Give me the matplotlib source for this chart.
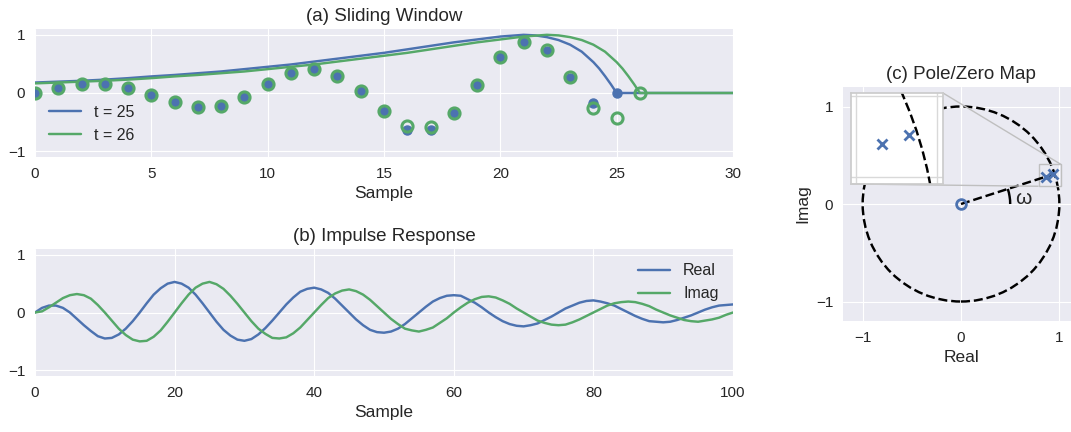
import numpy as np
import matplotlib
matplotlib.use('Agg')
import matplotlib.pyplot as plt
from matplotlib.patches import Arc, Circle
from mpl_toolkits.axes_grid1.inset_locator import mark_inset

plt.style.use('seaborn-v0_8-darkgrid')
plt.rcParams['font.family'] = ['Liberation Sans', 'DejaVu Sans']
plt.rcParams.update({'xtick.labelsize': 11, 'ytick.labelsize': 11,
                     'axes.labelsize': 12.5, 'axes.titlesize': 13.5,
                     'legend.fontsize': 11.5, 'lines.linewidth': 1.75,
                     'xtick.major.pad': 7, 'ytick.major.pad': 7})

blue = '#4C72B0'
green = '#55A868'

# (a) samples under the window ending at t = 25 and t = 26
n_25 = np.arange(26)
x_25 = [0.00, 0.09, 0.16, 0.16, 0.09, -0.03, -0.16, -0.24, -0.22, -0.07,
        0.15, 0.34, 0.41, 0.30, 0.04, -0.31, -0.63, -0.64, -0.34, 0.14,
        0.62, 0.87, 0.72, 0.25, -0.18, 0.00]
n_26 = np.arange(27)
x_26 = [0.00, 0.09, 0.16, 0.16, 0.09, -0.03, -0.16, -0.24, -0.22, -0.07,
        0.15, 0.34, 0.41, 0.30, 0.04, -0.31, -0.57, -0.59, -0.34, 0.14,
        0.62, 0.87, 0.74, 0.27, -0.25, -0.43, 0.00]

# window shapes
win_n_25 = [0, 1, 2, 3, 4, 5, 6, 7, 8, 9, 10, 11, 12, 13, 14, 15, 16, 17, 18,
            19, 20, 21, 21.5, 22, 22.5, 23, 23.5, 24, 24.25, 24.5, 24.75, 25, 30]
win_25 = [0.18, 0.195, 0.21, 0.23, 0.255, 0.285, 0.31, 0.34, 0.37, 0.41,
          0.45, 0.49, 0.54, 0.59, 0.64, 0.69, 0.75, 0.81, 0.87, 0.92, 0.97,
          1.0, 0.99, 0.96, 0.91, 0.83, 0.71, 0.53, 0.42, 0.29, 0.15, 0.0, 0.0]
win_n_26 = [0, 1, 2, 3, 4, 5, 6, 7, 8, 9, 10, 11, 12, 13, 14, 15, 16, 17, 18,
            19, 20, 21, 22, 22.5, 23, 23.5, 24, 24.5, 25, 25.25, 25.5, 25.75,
            26, 30]
win_26 = [0.165, 0.18, 0.195, 0.21, 0.23, 0.255, 0.285, 0.31, 0.34, 0.37,
          0.41, 0.45, 0.49, 0.54, 0.59, 0.64, 0.69, 0.75, 0.81, 0.87, 0.92,
          0.97, 1.0, 0.99, 0.96, 0.91, 0.83, 0.71, 0.53, 0.42, 0.29, 0.15,
          0.0, 0.0]

# (b) impulse response, samples 0..100
h_n = np.arange(101)
h_real = [0.00, 0.08, 0.12, 0.12, 0.08, 0.00, -0.11, -0.22, -0.32, -0.41,
          -0.45, -0.44, -0.38, -0.28, -0.15, 0.00, 0.16, 0.31, 0.42, 0.50,
          0.53, 0.50, 0.43, 0.31, 0.16, 0.00, -0.16, -0.30, -0.40, -0.47,
          -0.49, -0.46, -0.38, -0.27, -0.14, 0.00, 0.14, 0.26, 0.36, 0.41,
          0.43, 0.40, 0.34, 0.24, 0.12, 0.00, -0.12, -0.22, -0.30, -0.34,
          -0.35, -0.33, -0.28, -0.20, -0.10, 0.00, 0.10, 0.19, 0.25, 0.29,
          0.30, 0.29, 0.23, 0.17, 0.09, 0.00, -0.08, -0.15, -0.20, -0.23,
          -0.24, -0.22, -0.19, -0.13, -0.07, 0.00, 0.07, 0.12, 0.17, 0.20,
          0.21, 0.19, 0.16, 0.12, 0.06, 0.00, -0.06, -0.11, -0.15, -0.16,
          -0.17, -0.16, -0.13, -0.09, -0.05, 0.00, 0.05, 0.09, 0.12, 0.13,
          0.14]
h_imag = [0.00, 0.02, 0.09, 0.17, 0.25, 0.30, 0.32, 0.30, 0.24, 0.13,
          0.00, -0.14, -0.28, -0.39, -0.47, -0.50, -0.49, -0.42, -0.31, -0.16,
          0.00, 0.16, 0.31, 0.43, 0.50, 0.53, 0.49, 0.41, 0.29, 0.15,
          0.00, -0.15, -0.28, -0.37, -0.44, -0.45, -0.43, -0.36, -0.26, -0.13,
          0.00, 0.13, 0.25, 0.33, 0.38, 0.40, 0.37, 0.31, 0.22, 0.11,
          0.00, -0.11, -0.20, -0.28, -0.31, -0.33, -0.30, -0.26, -0.18, -0.10,
          0.00, 0.09, 0.17, 0.23, 0.27, 0.28, 0.26, 0.21, 0.15, 0.07,
          0.00, -0.07, -0.14, -0.18, -0.21, -0.22, -0.21, -0.17, -0.12, -0.06,
          0.00, 0.06, 0.12, 0.16, 0.18, 0.19, 0.18, 0.15, 0.11, 0.05,
          0.00, -0.05, -0.09, -0.13, -0.15, -0.16, -0.14, -0.12, -0.09, -0.04,
          0.00]

# (c) pole/zero locations
zero_re = [0.0]
zero_im = [0.0]
pole_re = [0.865, 0.932]
pole_im = [0.281, 0.303]
omega = np.pi / 10

fig = plt.figure(figsize=(10.71, 4.32), dpi=100)

# --- (a) sliding window
ax_a = fig.add_axes([0.0327, 0.6366, 0.6517, 0.2963])
ax_a.plot(win_n_25, win_25, color=blue, label='t = 25')
ax_a.plot(win_n_26, win_26, color=green, label='t = 26')
ax_a.plot(n_25, x_25, 'o', color=blue, ms=6.5, zorder=3)
ax_a.plot(n_26, x_26, 'o', mfc='none', mec=green, ms=8, mew=2.2, zorder=4)
ax_a.set_xlim(0, 30)
ax_a.set_ylim(-1.1, 1.1)
ax_a.set_yticks([-1, 0, 1])
ax_a.set_xlabel('Sample')
ax_a.set_title('(a) Sliding Window')
ax_a.legend(loc='lower left')

# --- (b) impulse response
ax_b = fig.add_axes([0.0327, 0.1296, 0.6517, 0.294])
ax_b.plot(h_n, h_real, color=blue, label='Real')
ax_b.plot(h_n, h_imag, color=green, label='Imag')
ax_b.set_xlim(0, 100)
ax_b.set_ylim(-1.1, 1.1)
ax_b.set_yticks([-1, 0, 1])
ax_b.set_xlabel('Sample')
ax_b.set_title('(b) Impulse Response')
ax_b.legend(loc='upper right')

# --- (c) pole/zero map
ax_c = fig.add_axes([0.7871, 0.2569, 0.2204, 0.5417])
ax_c.add_patch(Circle((0, 0), 1, fill=False, ls='--', lw=1.75, color='k'))
ax_c.plot([0, np.cos(omega)], [0, np.sin(omega)], 'k--', lw=1.75)
ax_c.add_patch(Arc((0, 0), 1.0, 1.0, theta1=0, theta2=np.degrees(omega),
                   color='k', lw=1.75))
ax_c.text(0.63, 0.06, 'ω', fontsize=15, ha='center', va='center',
          color='.15')
ax_c.plot(zero_re, zero_im, 'o', mfc='none', mec=blue, ms=7, mew=2)
ax_c.plot(pole_re, pole_im, 'x', color=blue, ms=7, mew=2)
ax_c.set_xlim(-1.2, 1.2)
ax_c.set_ylim(-1.2, 1.2)
ax_c.set_xticks([-1, 0, 1])
ax_c.set_yticks([-1, 0, 1])
ax_c.set_xlabel('Real')
ax_c.set_ylabel('Imag')
ax_c.set_title('(c) Pole/Zero Map')

# zoomed view around the poles
ax_in = fig.add_axes([0.7946, 0.5741, 0.0859, 0.2106])
ax_in.set_facecolor('white')
ax_in.add_patch(Circle((0, 0), 1, fill=False, ls='--', lw=1.75, color='k'))
ax_in.plot(pole_re, pole_im, 'x', color=blue, ms=7, mew=2)
ax_in.set_xlim(0.788, 1.015)
ax_in.set_ylim(0.182, 0.407)
ax_in.set_xticks([0.8, 1.0])
ax_in.set_yticks([0.2, 0.4])
ax_in.tick_params(labelbottom=False, labelleft=False, length=0)
ax_in.grid(True, color='0.85', lw=1)
for sp in ax_in.spines.values():
    sp.set_visible(True)
    sp.set_color('0.8')
    sp.set_linewidth(1.25)
mark_inset(ax_c, ax_in, loc1=1, loc2=3, fc='none', ec='0.75', lw=1)

fig.savefig('out.png', dpi=100)
